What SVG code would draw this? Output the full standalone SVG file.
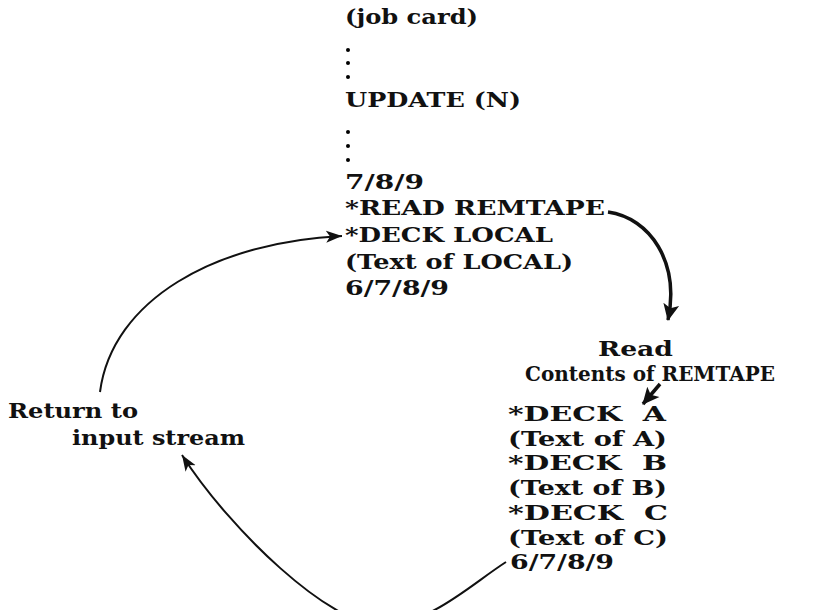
<svg xmlns="http://www.w3.org/2000/svg" width="813" height="610" viewBox="0 0 813 610">
<defs>
<style>
text{font-family:"DejaVu Serif","Liberation Serif",serif;font-weight:bold;font-size:21px;fill:#111;white-space:pre}
.thin{fill:none;stroke:#111;stroke-width:2}
.thick{fill:none;stroke:#111;stroke-width:3.5}
</style>
<marker id="ah" markerUnits="userSpaceOnUse" markerWidth="20" markerHeight="20" refX="16" refY="8" orient="auto">
<path d="M0,2 L16,8 L0,14 L4,8 Z" fill="#111"/>
</marker>
<marker id="ahb" markerUnits="userSpaceOnUse" markerWidth="22" markerHeight="22" refX="16" refY="9" orient="auto">
<path d="M0,1 L17,9 L0,17 L4,9 Z" fill="#111"/>
</marker>
</defs>
<g id="input-deck">
<text x="345" y="24" textLength="133" lengthAdjust="spacingAndGlyphs">(job card)</text>
<circle cx="348" cy="50" r="2"/><circle cx="348" cy="63" r="2"/><circle cx="348" cy="77" r="2"/>
<text x="345" y="107" textLength="176" lengthAdjust="spacingAndGlyphs">UPDATE (N)</text>
<circle cx="348" cy="132" r="2"/><circle cx="348" cy="146" r="2"/><circle cx="348" cy="160" r="2"/>
<text x="345" y="189" textLength="79" lengthAdjust="spacingAndGlyphs">7/8/9</text>
<text x="345" y="215" textLength="260" lengthAdjust="spacingAndGlyphs">*READ REMTAPE</text>
<text x="345" y="242" textLength="208" lengthAdjust="spacingAndGlyphs">*DECK LOCAL</text>
<text x="345" y="269" textLength="228" lengthAdjust="spacingAndGlyphs">(Text of LOCAL)</text>
<text x="345" y="295" textLength="104" lengthAdjust="spacingAndGlyphs">6/7/8/9</text>
</g>
<g id="read-label">
<text x="598" y="356" textLength="75" lengthAdjust="spacingAndGlyphs">Read</text>
<text x="525" y="381" textLength="250" lengthAdjust="spacingAndGlyphs">Contents of REMTAPE</text>
</g>
<g id="remtape-deck">
<text x="508" y="421" textLength="158" lengthAdjust="spacingAndGlyphs">*DECK  A</text>
<text x="508" y="446" textLength="159" lengthAdjust="spacingAndGlyphs">(Text of A)</text>
<text x="508" y="470" textLength="159" lengthAdjust="spacingAndGlyphs">*DECK  B</text>
<text x="508" y="495" textLength="159" lengthAdjust="spacingAndGlyphs">(Text of B)</text>
<text x="508" y="520" textLength="160" lengthAdjust="spacingAndGlyphs">*DECK  C</text>
<text x="508" y="545" textLength="160" lengthAdjust="spacingAndGlyphs">(Text of C)</text>
<text x="510" y="569" textLength="104" lengthAdjust="spacingAndGlyphs">6/7/8/9</text>
</g>
<g id="return-label">
<text x="8" y="418" textLength="130" lengthAdjust="spacingAndGlyphs">Return to</text>
<text x="72" y="445" textLength="173" lengthAdjust="spacingAndGlyphs">input stream</text>
</g>
<g id="connectors">
<path class="thick" d="M608,212 C650,218 680,262 668,320" marker-end="url(#ahb)"/>
<path class="thick" d="M660,384 L643,404" marker-end="url(#ahb)"/>
<path class="thin" d="M100,392 C112,300 215,242 342,236" marker-end="url(#ah)"/>
<path class="thin" d="M506,562 C470,585 430,625 380,625 C330,625 230,530 182,455" marker-end="url(#ah)"/>
</g>
</svg>
